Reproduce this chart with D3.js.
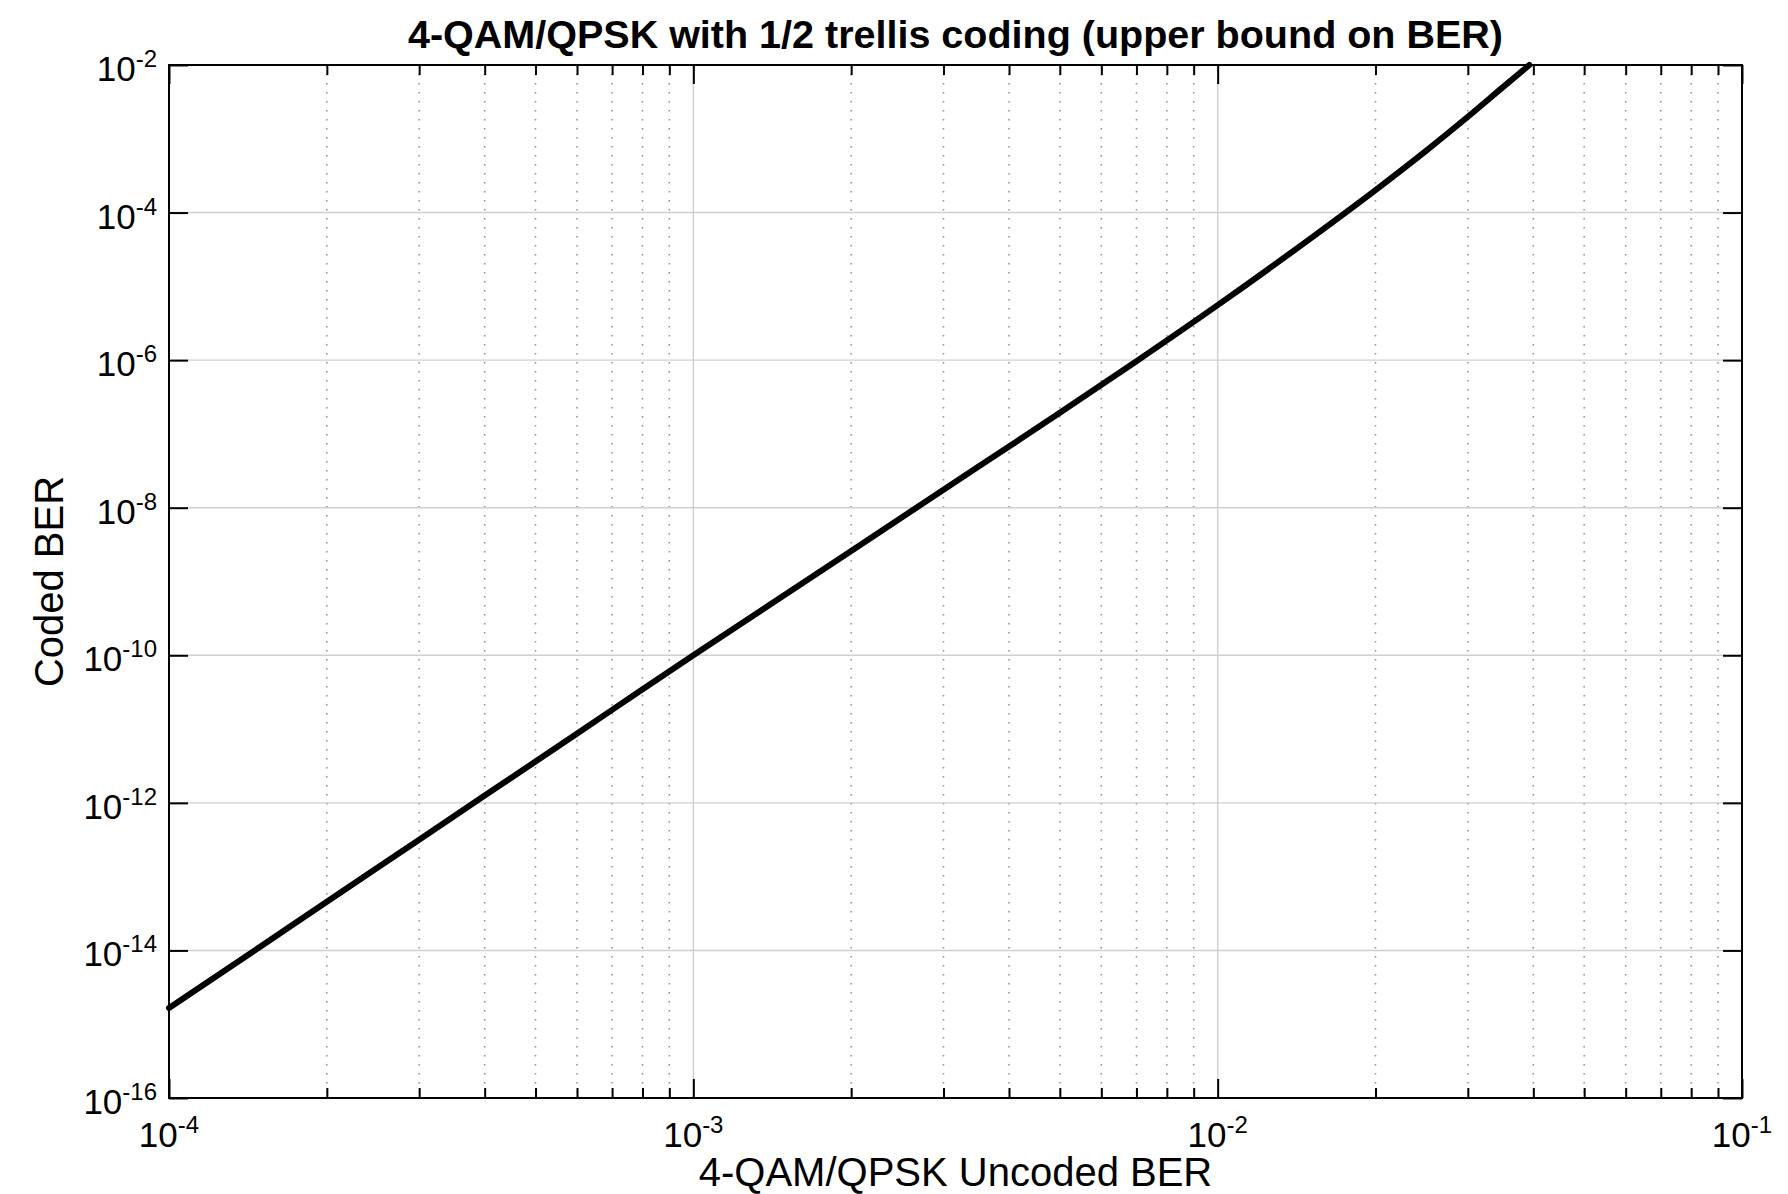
<!DOCTYPE html>
<html>
<head>
<meta charset="utf-8">
<script src="https://cdn.jsdelivr.net/npm/d3@7"></script>
<style>
  body { margin: 0; background: #fff; }
  svg { display: block; font-family: "Liberation Sans", Arial, Helvetica, sans-serif; }
</style>
</head>
<body>
<div class="canvas"></div>
<script>
// values
const uncodedBer = [1e-4, 1.5e-4, 2e-4, 3e-4, 4e-4, 5e-4, 7e-4, 1e-3, 1.5e-3, 2e-3, 3e-3, 4e-3, 5e-3, 7e-3, 1e-2, 1.5e-2, 2e-2, 2.5e-2, 3e-2, 3.5e-2, 3.93e-2];
const codedBer = [1.66e-15, 1.15e-14, 4.57e-14, 3.16e-13, 1.26e-12, 3.63e-12, 1.82e-11, 1.0e-10, 6.71e-10, 2.6e-9, 1.75e-8, 6.76e-8, 1.93e-7, 9.68e-7, 5.57e-6, 4.41e-5, 2.02e-4, 6.92e-4, 1.99e-3, 5.01e-3, 1.0e-2];

const xTickExp = [-4, -3, -2, -1];
const yTickExp = [-16, -14, -12, -10, -8, -6, -4, -2];
const minorSteps = [2, 3, 4, 5, 6, 7, 8, 9];

const titleText = "4-QAM/QPSK with 1/2 trellis coding (upper bound on BER)";
const xLabelText = "4-QAM/QPSK Uncoded BER";
const yLabelText = "Coded BER";

const dims = { width: 1788, height: 1194 };
const margin = { left: 169, top: 65, right: 46, bottom: 96 };
const w = dims.width - margin.left - margin.right;
const h = dims.height - margin.top - margin.bottom;

const svg = d3
  .select(".canvas")
  .append("svg")
  .attr("width", dims.width)
  .attr("height", dims.height);

const graph = svg
  .append("g")
  .attr("transform", `translate(${margin.left}, ${margin.top})`);

const x = d3.scaleLog().domain([1e-4, 1e-1]).range([0, w]);
const y = d3.scaleLog().domain([1e-16, 1e-2]).range([h, 0]);

const xMajor = xTickExp.map((e) => Math.pow(10, e));
const xMinor = xMajor.slice(0, -1).flatMap((d) => minorSteps.map((k) => d * k));
const yMajor = yTickExp.map((e) => Math.pow(10, e));

// grid
graph
  .append("g")
  .selectAll("line")
  .data(xMinor)
  .enter()
  .append("line")
  .attr("x1", (d) => x(d))
  .attr("x2", (d) => x(d))
  .attr("y1", 0)
  .attr("y2", h)
  .attr("stroke", "#8c8c8c")
  .attr("stroke-width", 1.5)
  .attr("stroke-dasharray", "1.5,7.5");

graph
  .append("g")
  .selectAll("line")
  .data(xMajor)
  .enter()
  .append("line")
  .attr("x1", (d) => x(d))
  .attr("x2", (d) => x(d))
  .attr("y1", 0)
  .attr("y2", h)
  .attr("stroke", "#cfcfcf")
  .attr("stroke-width", 1.4);

graph
  .append("g")
  .selectAll("line")
  .data(yMajor)
  .enter()
  .append("line")
  .attr("x1", 0)
  .attr("x2", w)
  .attr("y1", (d) => y(d))
  .attr("y2", (d) => y(d))
  .attr("stroke", "#cfcfcf")
  .attr("stroke-width", 1.4);

// ticks (inward, on all four sides)
const tickAxis = (axis, values, size, tr) => {
  const g = graph
    .append("g")
    .attr("transform", tr)
    .call(axis.tickValues(values).tickSizeInner(-size).tickSizeOuter(0).tickFormat(""));
  g.select(".domain").remove();
  g.selectAll(".tick line").attr("stroke", "#000").attr("stroke-width", 2);
};
tickAxis(d3.axisBottom(x), xMajor, 19, `translate(0, ${h})`);
tickAxis(d3.axisBottom(x), xMinor, 10, `translate(0, ${h})`);
tickAxis(d3.axisTop(x), xMajor, 19, "translate(0, 0)");
tickAxis(d3.axisTop(x), xMinor, 10, "translate(0, 0)");
tickAxis(d3.axisLeft(y), yMajor, 19, "translate(0, 0)");
tickAxis(d3.axisRight(y), yMajor, 19, `translate(${w}, 0)`);

// box
graph
  .append("rect")
  .attr("width", w)
  .attr("height", h)
  .attr("fill", "none")
  .attr("stroke", "#000")
  .attr("stroke-width", 2);

// curve
const line = d3
  .line()
  .x((d) => x(d[0]))
  .y((d) => y(d[1]))
  .curve(d3.curveMonotoneX);

graph
  .append("path")
  .datum(d3.zip(uncodedBer, codedBer))
  .attr("d", line)
  .attr("fill", "none")
  .attr("stroke", "#000")
  .attr("stroke-width", 6)
  .attr("stroke-linejoin", "round")
  .attr("stroke-linecap", "round");

// tick labels: 10 with superscript exponent
const powLabel = (sel) => {
  sel.append("tspan").text("10");
  sel
    .append("tspan")
    .attr("dy", -14)
    .attr("font-size", 24)
    .text((d) => d);
};

graph
  .append("g")
  .selectAll("text")
  .data(xTickExp)
  .enter()
  .append("text")
  .attr("x", (d) => x(Math.pow(10, d)))
  .attr("y", h + 49)
  .attr("text-anchor", "middle")
  .attr("font-size", 35)
  .call(powLabel);

graph
  .append("g")
  .selectAll("text")
  .data(yTickExp)
  .enter()
  .append("text")
  .attr("x", -12)
  .attr("y", (d) => y(Math.pow(10, d)) + 16)
  .attr("text-anchor", "end")
  .attr("font-size", 35)
  .call(powLabel);

// titles
svg
  .append("text")
  .attr("x", margin.left + w / 2)
  .attr("y", 48)
  .attr("text-anchor", "middle")
  .attr("font-size", 39.5)
  .attr("font-weight", "bold")
  .text(titleText);

svg
  .append("text")
  .attr("x", margin.left + w / 2)
  .attr("y", 1186)
  .attr("text-anchor", "middle")
  .attr("font-size", 40)
  .text(xLabelText);

svg
  .append("text")
  .attr("transform", `translate(63, ${margin.top + h / 2}) rotate(-90)`)
  .attr("text-anchor", "middle")
  .attr("font-size", 40)
  .text(yLabelText);
</script>
</body>
</html>
